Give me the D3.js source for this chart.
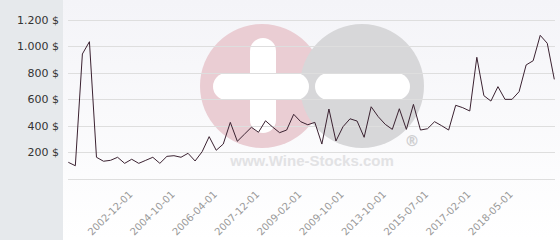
<!DOCTYPE html>
<html>
<head>
<meta charset="utf-8">
<script src="https://cdnjs.cloudflare.com/ajax/libs/d3/7.8.5/d3.min.js"></script>
<style>
  body { margin: 0; background: #fff; }
  svg { display: block; }
</style>
</head>
<body>
<div id="chart-area"></div>
<script>
// prices, one point per listing date (oldest first)
var prices = [124, 98, 943, 1036, 162, 132, 139, 162, 116, 147,
              116, 139, 162, 116, 169, 174, 162, 192, 134, 204,
              318, 215, 262, 426, 283, 336, 389, 351, 438, 391,
              348, 368, 487, 431, 408, 426, 262, 527, 285, 393,
              453, 436, 313, 544, 469, 411, 373, 529, 373, 562,
              368, 378, 431, 401, 368, 555, 537, 512, 918, 628,
              587, 696, 600, 600, 658, 860, 892, 1084, 1024, 751];

// dates shown on the x axis and the point they sit under
var tickLabels = ["2002-12-01", "2004-10-01", "2006-04-01", "2007-12-01", "2009-02-01",
                  "2009-10-01", "2013-10-01", "2015-07-01", "2017-02-01", "2018-05-01"];
var tickIndex = [9, 15, 21, 27, 33, 39, 45, 51, 57, 63];

var yTicks = [0, 200, 400, 600, 800, 1000, 1200];

var width = 560, height = 240;

var svg = d3.select('#chart-area').append('svg')
    .attr('width', width)
    .attr('height', height);

var defs = svg.append('defs');
var grad = defs.append('linearGradient')
    .attr('id', 'bg').attr('x1', 0).attr('y1', 0).attr('x2', 0).attr('y2', 1);
grad.append('stop').attr('offset', '0%').attr('stop-color', '#f4f4f8');
grad.append('stop').attr('offset', '100%').attr('stop-color', '#ffffff');

// backgrounds
svg.append('rect').attr('x', 63).attr('y', 0).attr('width', width - 63).attr('height', height)
    .attr('fill', 'url(#bg)');
svg.append('rect').attr('x', 0).attr('y', 0).attr('width', 63).attr('height', height)
    .attr('fill', '#e6e9ec');

var x = d3.scalePoint()
    .domain(d3.range(prices.length))
    .range([68.3, 554.3]);

var y = d3.scaleLinear()
    .domain([0, 1200])
    .range([178.7, 20]);

// watermark logo
var wm = svg.append('g').attr('class', 'watermark');
wm.append('circle').attr('cx', 262).attr('cy', 86).attr('r', 62).attr('fill', '#eacdd3');
wm.append('circle').attr('cx', 362).attr('cy', 86).attr('r', 62).attr('fill', '#d7d7d9');
wm.append('rect').attr('x', 250).attr('y', 38).attr('width', 26).attr('height', 95)
    .attr('rx', 13).attr('fill', '#ffffff');
wm.append('rect').attr('x', 213).attr('y', 73).attr('width', 96).attr('height', 27)
    .attr('rx', 13.5).attr('fill', '#ffffff');
wm.append('rect').attr('x', 315).attr('y', 73).attr('width', 95).attr('height', 27)
    .attr('rx', 13.5).attr('fill', '#ffffff');
wm.append('text').attr('x', 312).attr('y', 166)
    .attr('text-anchor', 'middle')
    .attr('font-family', 'Liberation Sans, Arial, sans-serif')
    .attr('font-weight', 'bold').attr('font-size', 15)
    .attr('fill', '#e2e2e4')
    .text('www.Wine-Stocks.com');
wm.append('text').attr('x', 412).attr('y', 146)
    .attr('text-anchor', 'middle')
    .attr('font-family', 'DejaVu Sans, sans-serif')
    .attr('font-weight', 'bold').attr('font-size', 15)
    .attr('fill', '#cfcfd1')
    .text('®');

// grid lines
svg.append('g').attr('class', 'grid')
    .selectAll('line')
    .data(yTicks)
    .enter()
    .append('line')
        .attr('x1', 68).attr('x2', 555)
        .attr('y1', function(d){ return Math.round(y(d)) + 0.5; })
        .attr('y2', function(d){ return Math.round(y(d)) + 0.5; })
        .attr('stroke', '#dedede')
        .attr('stroke-width', 1);

// y labels, no label on zero
var fmt = function(d){ return d3.format(',')(d).replace(',', '.') + ' $'; };
svg.append('g').attr('class', 'labels labels-y')
    .selectAll('text')
    .data(yTicks.filter(function(d){ return d > 0; }))
    .enter()
    .append('text')
        .attr('x', 59)
        .attr('y', function(d){ return y(d) + 4; })
        .attr('text-anchor', 'end')
        .attr('font-family', 'DejaVu Sans, sans-serif')
        .attr('font-size', 11)
        .attr('fill', '#333')
        .text(fmt);

// x labels
svg.append('g').attr('class', 'labels labels-x')
    .selectAll('text')
    .data(tickLabels)
    .enter()
    .append('text')
        .attr('transform', function(d, i){
            return 'translate(' + (x(tickIndex[i]) + 1.5) + ',195) rotate(-45)';
        })
        .attr('text-anchor', 'end')
        .attr('font-family', 'DejaVu Sans, sans-serif')
        .attr('font-size', 10)
        .attr('fill', '#999')
        .text(function(d){ return d; });

// price line
var line = d3.line()
    .x(function(d, i){ return x(i); })
    .y(function(d){ return y(d); });

svg.append('path')
    .datum(prices)
    .attr('d', line)
    .attr('fill', 'none')
    .attr('stroke', '#3b2231')
    .attr('stroke-width', 1);
</script>
</body>
</html>
